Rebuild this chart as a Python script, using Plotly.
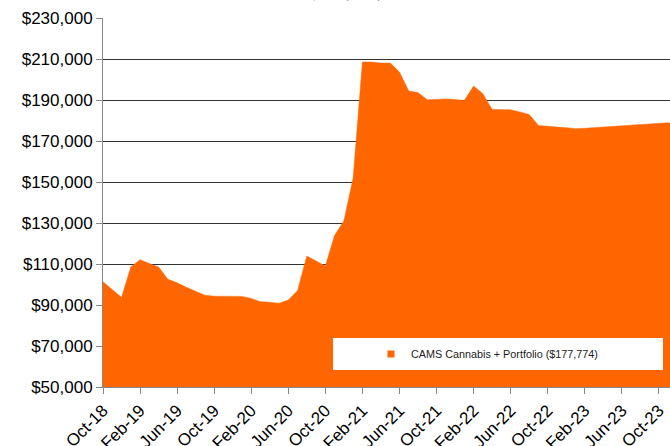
import plotly.graph_objects as go

months = [
    "Oct-18", "Nov-18", "Dec-18", "Jan-19", "Feb-19", "Mar-19", "Apr-19", "May-19", "Jun-19",
    "Jul-19", "Aug-19", "Sep-19", "Oct-19", "Nov-19", "Dec-19", "Jan-20", "Feb-20", "Mar-20",
    "Apr-20", "May-20", "Jun-20", "Jul-20", "Aug-20", "Sep-20", "Oct-20", "Nov-20", "Dec-20",
    "Jan-21", "Feb-21", "Mar-21", "Apr-21", "May-21", "Jun-21", "Jul-21", "Aug-21", "Sep-21",
    "Oct-21", "Nov-21", "Dec-21", "Jan-22", "Feb-22", "Mar-22", "Apr-22", "May-22", "Jun-22",
    "Jul-22", "Aug-22", "Sep-22", "Oct-22", "Nov-22", "Dec-22", "Jan-23", "Feb-23", "Mar-23",
    "Apr-23", "May-23", "Jun-23", "Jul-23", "Aug-23", "Sep-23", "Oct-23", "Nov-23", "Dec-23",
]

portfolio_values = [
    101300, 97500, 93700, 108500, 112100, 110200, 108500, 102600, 100800,
    98600, 96600, 94800, 94300, 94300, 94300, 94200, 93200, 91600,
    91300, 90800, 92400, 97000, 113900, 111500, 109000, 124000, 131000,
    152000, 208500, 208500, 208000, 208000, 203600, 194400, 193600, 190100,
    190300, 190500, 190300, 189700, 196800, 193100, 185400, 185300, 185200,
    184200, 182900, 177600, 177100, 176800, 176500, 176000, 176200, 176500,
    176800, 177200, 177600, 177800, 178100, 178400, 178600, 178900, 177774,
]

tick_labels = ["Oct-18", "Feb-19", "Jun-19", "Oct-19", "Feb-20", "Jun-20", "Oct-20", "Feb-21",
               "Jun-21", "Oct-21", "Feb-22", "Jun-22", "Oct-22", "Feb-23", "Jun-23", "Oct-23"]

series_name = "CAMS Cannabis + Portfolio ($177,774)"
title_text = "Growth of $100,000, Net of Fees"

ORANGE = "#FF6600"
FONT = "Liberation Sans, Arial, sans-serif"

fig = go.Figure()
fig.add_trace(go.Scatter(
    x=months, y=portfolio_values, name=series_name,
    mode="lines", fill="tozeroy", fillcolor=ORANGE,
    line=dict(color=ORANGE, width=0.5),
    showlegend=False,
))
# legend entry (small square swatch, as in the reference)
fig.add_trace(go.Scatter(
    x=[None], y=[None], name=series_name, mode="markers",
    marker=dict(symbol="square", size=7, color=ORANGE),
    showlegend=True,
))

W, H = 670, 446
L, T, B = 103, 18, 59
plot_h = H - T - B

fig.update_layout(
    width=W, height=H,
    margin=dict(l=L, r=0, t=T, b=B, autoexpand=False),
    paper_bgcolor="white", plot_bgcolor="white",
    font=dict(family=FONT, color="#000000"),
    showlegend=True,
    legend=dict(
        x=(371 - L) / (W - L), y=(387 - 354) / plot_h,
        xanchor="left", yanchor="middle",
        bgcolor="rgba(0,0,0,0)", borderwidth=0,
        font=dict(size=10.8, family=FONT, color="#222222"),
        itemwidth=30,
    ),
    xaxis=dict(
        type="category", automargin=False,
        range=[0, 61.2],
        tickmode="array", tickvals=tick_labels, ticktext=tick_labels,
        tickangle=-45,
        tickfont=dict(size=17, family=FONT, color="#000000"),
        ticks="outside", ticklen=6, tickcolor="#888888", tickwidth=1,
        showline=True, linecolor="#888888", linewidth=1,
        showgrid=False, zeroline=False,
    ),
    yaxis=dict(
        automargin=False,
        range=[50000, 230000], dtick=20000, tick0=50000,
        tickformat="$,.0f",
        tickfont=dict(size=17, family=FONT, color="#000000"),
        ticks="outside", ticklen=6, tickcolor="#888888", tickwidth=1,
        showline=True, linecolor="#888888", linewidth=1,
        showgrid=True, gridcolor="#333333", gridwidth=1,
        zeroline=False,
    ),
    shapes=[dict(
        type="rect", xref="paper", yref="paper",
        x0=(333 - L) / (W - L), x1=(663 - L) / (W - L),
        y0=(387 - 370) / plot_h, y1=(387 - 338) / plot_h,
        fillcolor="white", line=dict(width=0), layer="above",
    )],
    annotations=[dict(
        text=title_text, xref="paper", yref="paper",
        x=(351.5 - L) / (W - L), y=(387 - 4) / plot_h,
        xanchor="center", yanchor="bottom", showarrow=False,
        font=dict(size=16, family=FONT, color="#808080"),
    )],
)

fig.write_html(
    "out.html",
    config={"displayModeBar": False},
    post_script="document.body.style.margin='0';document.body.style.overflow='hidden';",
)
